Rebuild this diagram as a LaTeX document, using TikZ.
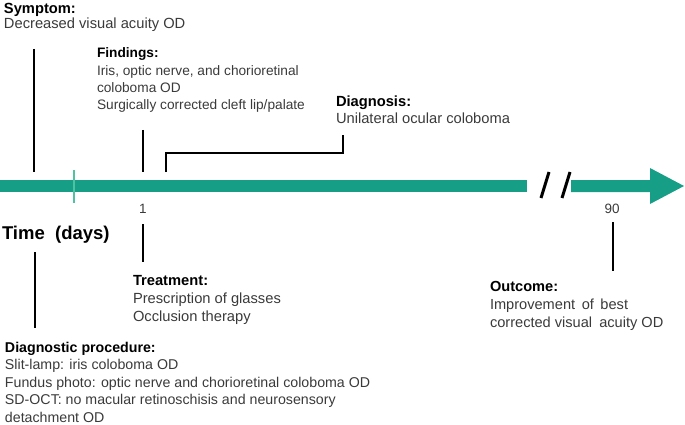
\documentclass[tikz,border=0pt]{standalone}
\usepackage{fontspec}
\setmainfont{Liberation Sans}
\definecolor{barc}{HTML}{179E86}
\definecolor{tickc}{HTML}{4FC3A1}
\definecolor{txt}{HTML}{3A3A3A}
\newcommand{\tlblock}[4]{\parbox[t]{20cm}{\raggedright\fontsize{#1}{#2}\selectfont\leavevmode{\bfseries\color{black}#3}\\\color{txt}#4}}
\begin{document}
\begin{tikzpicture}[x=1pt,y=-1pt,
  lbl/.style={anchor=base west, inner sep=0, outer sep=0},
  num/.style={anchor=base, inner sep=0, text=txt, font=\fontsize{13.5}{16}\selectfont},
  conn/.style={line width=2.2pt, black},
  barline/.style={line width=12pt, barc},
  slash/.style={line width=3pt, black}]
\useasboundingbox (0,0) rectangle (685,425);

% timeline
\coordinate (b0) at (0,186);
\coordinate (b1) at (527,186);
\draw[barline] (b0) -- (b1);
\fill[barc] (571,180) -- (650,180) -- (650,168) -- (684,186) -- (650,204) -- (650,192) -- (571,192) -- cycle;
\coordinate (t0) at (74,170);
\coordinate (t1) at (74,203);
\draw[tickc, line width=1.5pt] (t0) -- (t1);
\coordinate (sa0) at (541,198);
\coordinate (sa1) at (549,172);
\coordinate (sb0) at (562,198);
\coordinate (sb1) at (570,172);
\draw[slash] (sa0) -- (sa1);
\draw[slash] (sb0) -- (sb1);

% labels
\node[lbl] (sym) at (4,13.5) {\tlblock{14.7}{15.5}{Symptom:}{Decreased visual acuity OD}};
\node[lbl] (find) at (97,58) {\tlblock{13.7}{17.3}{Findings:}{Iris, optic nerve, and chorioretinal\\coloboma OD\\Surgically corrected cleft lip/palate}};
\node[lbl] (diag) at (336,107) {\tlblock{14.7}{16.8}{Diagnosis:}{Unilateral ocular coloboma}};
\node[lbl] (treat) at (133,285.5) {\tlblock{14.7}{18}{Treatment:}{Prescription of glasses\\Occlusion therapy}};
\node[lbl] (outc) at (490,291.5) {\tlblock{14.6}{17.8}{Outcome:}{Improvement\hspace{2.5pt} of\hspace{2.5pt} best\\corrected visual\hspace{3pt} acuity OD}};
\node[lbl] (proc) at (5,352) {\tlblock{14.2}{17.6}{Diagnostic procedure:}{Slit-lamp: iris coloboma OD\\Fundus photo: optic nerve and chorioretinal coloboma OD\\SD-OCT: no macular retinoschisis and neurosensory\\detachment OD}};
\node[lbl] (time) at (2,239) {\fontsize{18.5}{20}\selectfont\bfseries Time\ \ (days)};
\node[num] (d1) at (143,213) {1};
\node[num] (d90) at (612,213) {90};

% connectors
\coordinate (s1) at (34,49);
\coordinate (s2) at (34,172);
\draw[conn] (s1) -- (s2);
\coordinate (f1) at (143,130);
\coordinate (f2) at (143,172);
\draw[conn] (f1) -- (f2);
\coordinate (g1) at (166,172);
\coordinate (g2) at (166,153);
\coordinate (g3) at (343,153);
\coordinate (g4) at (343,135);
\draw[conn] (g1) -- (g2) -- (g3) -- (g4);
\coordinate (r1) at (143,224);
\coordinate (r2) at (143,262);
\draw[conn] (r1) -- (r2);
\coordinate (p1) at (35,252);
\coordinate (p2) at (35,328);
\draw[conn] (p1) -- (p2);
\coordinate (o1) at (613,222);
\coordinate (o2) at (613,271);
\draw[conn] (o1) -- (o2);
\end{tikzpicture}
\end{document}
